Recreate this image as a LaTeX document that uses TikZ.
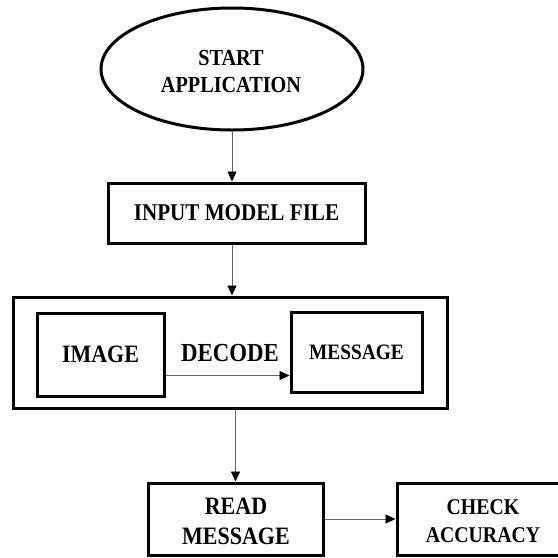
\documentclass[tikz,border=0pt]{standalone}
\usepackage{fontspec}
\setmainfont{Liberation Serif}[FakeStretch=0.88]
\usetikzlibrary{shapes.geometric,arrows.meta}

\tikzset{
  box/.style={draw=black, line width=3pt, rectangle, inner sep=0pt, align=center},
  oval/.style={draw=black, line width=3pt, ellipse, inner sep=0pt, align=center},
  txt/.style={font={\bfseries\fontsize{#1}{#1}\selectfont}},
  label/.style={inner sep=0pt},
  arr/.style={draw=black!60, line width=0.9pt, -{Triangle[length=10pt,width=9pt,color=black]}}
}

\begin{document}
\begin{tikzpicture}[x=1pt,y=-1pt]
  \useasboundingbox (0,0) rectangle (558,558);
  \clip (0,0) rectangle (558,558);

  % start of the flow
  \node[oval, minimum width=262pt, minimum height=122pt] (start) at (232,69) {};
  \node[label, txt=23, align=center] (starttext) at (231,71) {START\\[4pt]APPLICATION};

  \node[box, minimum width=257pt, minimum height=60pt, txt=24] (input) at (236.5,213)
    {INPUT MODEL FILE};

  % decoding stage
  \node[box, minimum width=434pt, minimum height=111pt] (outer) at (230,352.5) {};
  \node[box, minimum width=127pt, minimum height=83pt, txt=25] (img) at (100.5,354.5)
    {IMAGE};
  \node[box, minimum width=131pt, minimum height=80pt, txt=22] (msg) at (356.5,352)
    {MESSAGE};
  \node[label, txt=26] (decode) at (230,353) {DECODE};

  % final steps
  \node[box, minimum width=175pt, minimum height=72pt] (read) at (235.5,519) {};
  \node[label, txt=25, align=center] (readtext) at (236,521) {READ\\[5pt]MESSAGE};
  \node[box, minimum width=170pt, minimum height=72pt] (check) at (482,519) {};
  \node[label, txt=22.5, align=center] (checktext) at (483,521) {CHECK\\[6pt]ACCURACY};

  % connectors
  \draw[arr] (start.south) -- (start.south |- input.north);
  \draw[arr] (start.south |- input.south) -- (start.south |- outer.north);
  \coordinate (dstart) at ([yshift=22pt]img.south east);
  \draw[arr] (dstart) -- (dstart -| msg.west);
  \draw[arr] (read.north |- outer.south) -- (read.north);
  \draw[arr] (read) -- (check);
\end{tikzpicture}
\end{document}
